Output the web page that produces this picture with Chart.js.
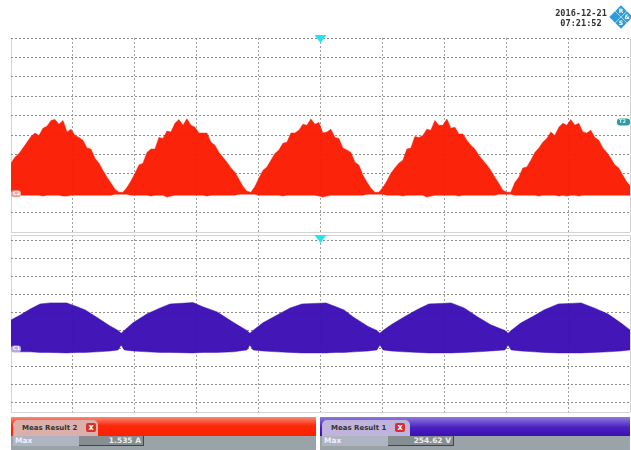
<!DOCTYPE html>
<html>
<head>
<meta charset="utf-8">
<title>Meas Result</title>
<script src="https://cdn.jsdelivr.net/npm/chart.js@4"></script>
<style>
    html, body { margin: 0; padding: 0; background: #fff; }
    #tela { position: relative; width: 631px; height: 450px; overflow: hidden; font-family: "DejaVu Sans", sans-serif; filter: blur(0.35px); }
    canvas { position: absolute; left: 0; }
    #grafico-corrente { top: 0; }
    #grafico-tensao { top: 233px; }
    .data { position: absolute; left: 546px; width: 70px; text-align: center; font: bold 8.6px/10px "DejaVu Sans Mono", monospace; color: #333; }
    .logo { position: absolute; width: 8px; height: 8px; background: #2f9bd9; transform: rotate(45deg); color: #fff; font: bold 6px/8px "DejaVu Sans", sans-serif; text-align: center; }
    .logo span { display: block; transform: rotate(-45deg); }
    .barra { position: absolute; top: 417px; height: 19px; }
    .vermelha { left: 11px; width: 305px; background: linear-gradient(#f9897a, #fb2a0a 45%, #fb2000); }
    .roxa { left: 320px; width: 310px; background: linear-gradient(#8f7bdc, #4a20c0 55%, #3a10b0); }
    .aba { position: absolute; top: 420px; height: 16px; border-radius: 5px 5px 0 0; font: bold 7px/16px "DejaVu Sans", sans-serif; color: #333; padding-left: 9px; box-sizing: border-box; }
    .fechar { position: absolute; top: 423px; width: 10px; height: 9px; border-radius: 2px; background: #d9302c; color: #fff; font: bold 8px/9px "DejaVu Sans", sans-serif; text-align: center; }
    .fundo { position: absolute; top: 436px; height: 14px; background: #9aa4a8; }
    .rotulo { position: absolute; top: 436px; height: 10px; background: #aeb4c2; color: #eef; font: bold 7.5px/10px "DejaVu Sans", sans-serif; padding-left: 2px; box-sizing: border-box; }
    .valor { position: absolute; top: 436px; height: 10px; background: #868e92; color: #eee; font: bold 7.5px/10px "DejaVu Sans", sans-serif; text-align: right; padding-right: 2px; box-sizing: border-box; border-right: 1px solid #444; border-bottom: 1px solid #444; }
</style>
</head>
<body>
<div id="tela">
    <canvas id="grafico-corrente" width="631" height="235"></canvas>
    <canvas id="grafico-tensao" width="631" height="182"></canvas>

    <div class="data" style="top: 8px">2016-12-21</div>
    <div class="data" style="top: 18px">07:21:52</div>
    <div class="logo" style="left: 617px; top: 7px"><span>R</span></div>
    <div class="logo" style="left: 611px; top: 13px"></div>
    <div class="logo" style="left: 623px; top: 13px"><span>&amp;</span></div>
    <div class="logo" style="left: 617px; top: 19px"><span>S</span></div>

    <div class="barra vermelha"></div>
    <div class="aba" style="left: 13px; width: 85px; background: #dcb0aa">Meas Result 2</div>
    <div class="fechar" style="left: 86px">x</div>
    <div class="fundo" style="left: 11px; width: 305px"></div>
    <div class="rotulo" style="left: 13px; width: 66px">Max</div>
    <div class="valor" style="left: 79px; width: 65px">1.535 A</div>

    <div class="barra roxa"></div>
    <div class="aba" style="left: 322px; width: 88px; background: #c0b4dc">Meas Result 1</div>
    <div class="fechar" style="left: 395px">x</div>
    <div class="fundo" style="left: 320px; width: 310px"></div>
    <div class="rotulo" style="left: 322px; width: 66px">Max</div>
    <div class="valor" style="left: 388px; width: 66px">254.62 V</div>
</div>

<script>
// Corrente (canal 2): envoltoria, uma amostra a cada 0,0646 div
const correnteSuperior = [
    0.62, 0.74, 0.82, 0.93, 1.05, 1.17, 1.24, 1.19, 1.34, 1.38, 1.50, 1.52, 1.42, 1.50, 1.26, 1.32,
    1.19, 1.15, 1.09, 0.93, 0.91, 0.72, 0.62, 0.47, 0.33, 0.21, 0.08, 0.02, 0.02, 0.12, 0.25, 0.41,
    0.58, 0.62, 0.84, 0.91, 0.91, 1.15, 1.13, 1.28, 1.26, 1.44, 1.52, 1.40, 1.535, 1.40, 1.36, 1.24,
    1.24, 1.24, 1.05, 0.99, 0.84, 0.74, 0.64, 0.52, 0.43, 0.29, 0.14, 0.04, 0.02, 0.14, 0.31, 0.47,
    0.54, 0.68, 0.82, 0.89, 1.03, 1.05, 1.24, 1.24, 1.30, 1.42, 1.40, 1.53, 1.42, 1.46, 1.24, 1.26,
    1.32, 1.15, 1.13, 0.93, 0.89, 0.84, 0.64, 0.58, 0.37, 0.23, 0.10, 0.02, 0.02, 0.12, 0.25, 0.41,
    0.52, 0.62, 0.68, 0.91, 0.93, 1.17, 1.15, 1.19, 1.32, 1.30, 1.50, 1.40, 1.40, 1.53, 1.34, 1.36,
    1.22, 1.22, 1.09, 0.99, 0.91, 0.78, 0.68, 0.58, 0.47, 0.33, 0.20, 0.06, 0.02, 0.02, 0.22, 0.33,
    0.52, 0.54, 0.68, 0.84, 0.93, 1.05, 1.13, 1.26, 1.19, 1.36, 1.44, 1.40, 1.52, 1.40, 1.44, 1.26,
    1.24, 1.30, 1.15, 1.09, 0.93, 0.84, 0.72, 0.58, 0.52, 0.37, 0.23, 0.14
];
const correnteInferior = [
    -0.04, -0.04, -0.04, -0.04, -0.04, -0.04, -0.04, -0.04, -0.06, -0.04, -0.04, -0.04, -0.04, -0.06, -0.06, -0.04,
    -0.04, -0.04, -0.04, -0.04, -0.04, -0.04, -0.04, -0.04, -0.04, -0.04, -0.02, -0.02, -0.02, -0.02, -0.04, -0.04,
    -0.04, -0.04, -0.04, -0.06, -0.04, -0.04, -0.04, -0.08, -0.06, -0.04, -0.04, -0.04, -0.04, -0.04, -0.04, -0.04,
    -0.04, -0.06, -0.04, -0.04, -0.04, -0.04, -0.04, -0.04, -0.04, -0.02, -0.02, -0.02, -0.02, -0.02, -0.04, -0.04,
    -0.04, -0.04, -0.04, -0.04, -0.06, -0.04, -0.04, -0.04, -0.04, -0.04, -0.04, -0.04, -0.04, -0.06, -0.08, -0.06,
    -0.04, -0.04, -0.04, -0.04, -0.04, -0.04, -0.04, -0.04, -0.04, -0.02, -0.02, -0.02, -0.02, -0.02, -0.04, -0.04,
    -0.04, -0.04, -0.06, -0.04, -0.04, -0.04, -0.04, -0.04, -0.08, -0.06, -0.04, -0.04, -0.04, -0.04, -0.04, -0.04,
    -0.06, -0.04, -0.04, -0.04, -0.04, -0.04, -0.04, -0.04, -0.04, -0.04, -0.02, -0.02, -0.02, -0.02, -0.04, -0.04,
    -0.04, -0.04, -0.04, -0.04, -0.06, -0.04, -0.04, -0.04, -0.04, -0.06, -0.04, -0.06, -0.04, -0.04, -0.06, -0.04,
    -0.04, -0.04, -0.04, -0.04, -0.04, -0.04, -0.04, -0.04, -0.04, -0.04, -0.04, -0.04
];
const passoCorrente = 0.0646;

// Tensao (canal 1)
const tempoTensao = [
    0, 0.15, 0.31, 0.47, 0.63, 0.90, 1.07, 1.20, 1.39, 1.60, 1.73, 1.78, 1.83, 1.97,
    2.20, 2.41, 2.57, 2.94, 3.10, 3.33, 3.59, 3.81, 3.86, 3.91, 4.07,
    4.30, 4.51, 4.70, 5.09, 5.25, 5.38, 5.54, 5.77, 5.91, 5.96, 6.01, 6.14,
    6.35, 6.58, 6.75, 7.11, 7.32, 7.54, 7.75, 7.98, 8.03, 8.08, 8.24,
    8.45, 8.61, 8.84, 9.21, 9.42, 9.64, 9.85, 10
];
const tensaoSuperior = [
    158, 186, 219, 247, 253, 253, 231, 214, 172, 125, 100, 84, 100, 142,
    192, 225, 247, 254.62, 231, 203, 145, 100, 84, 100, 142,
    186, 225, 247, 253, 231, 214, 172, 122, 100, 84, 100, 131,
    175, 219, 247, 253, 225, 175, 131, 100, 84, 100, 142,
    181, 214, 247, 253, 225, 192, 142, 103
];
const tensaoInferior = [
    -8, -19, -19, -22, -22, -25, -22, -22, -19, -14, -8, 19, -8, -14,
    -19, -22, -22, -25, -22, -22, -19, -8, 19, -8, -14,
    -19, -22, -25, -25, -22, -22, -19, -14, -8, 19, -8, -14,
    -19, -22, -25, -25, -22, -19, -14, -8, 19, -8, -14,
    -19, -22, -25, -25, -22, -19, -14, -8
];

// Marcas dos eixos
const divisoesTempo = [0, 1, 2, 3, 4, 5, 6, 7, 8, 9, 10];
const divisoesCorrente = [-0.8, -0.4, 0, 0.4, 0.8, 1.2, 1.6, 2.0, 2.4, 2.8, 3.2];
const divisoesTensao = [-353, -300, -200, -100, 0, 100, 200, 300, 400, 500, 600, 630];

const corGrade = '#8c8c8c';
const corGradeVertical = '#a2a2a2';
const corMoldura = '#d4d4d4';

function montarPontos(tempos, valores) {
    return valores.map((v, i) => ({ x: tempos[i], y: v }));
}

// Triangulo de disparo e etiquetas de canal presos as escalas
function marcadores(etiquetas) {
    return {
        id: 'marcadores',
        afterDraw(chart) {
            const ctx = chart.ctx;
            const { x, y } = chart.scales;
            const meio = x.getPixelForValue(5);
            const topo = chart.chartArea.top;

            ctx.save();
            ctx.fillStyle = '#27e3ee';
            ctx.beginPath();
            ctx.moveTo(meio - 6, topo + etiquetas.triangulo);
            ctx.lineTo(meio + 6, topo + etiquetas.triangulo);
            ctx.lineTo(meio, topo + etiquetas.triangulo + 8);
            ctx.closePath();
            ctx.fill();

            etiquetas.lista.forEach(e => {
                const py = y.getPixelForValue(e.valor);
                const px = e.direita ? chart.chartArea.right - 13 : chart.chartArea.left;
                ctx.fillStyle = e.fundo;
                ctx.beginPath();
                ctx.roundRect(px, py - 3, e.direita ? 13 : 10, 7, 3);
                ctx.fill();
                ctx.fillStyle = e.texto;
                ctx.font = 'bold 5px "DejaVu Sans"';
                ctx.textBaseline = 'middle';
                ctx.fillText(e.nome, px + 2, py + 0.5);
            });
            ctx.restore();
        }
    };
}

function criarOsciloscopio(id, superior, inferior, cor, marcasY, minY, maxY, molduraY, etiquetas) {
    return new Chart(document.getElementById(id), {
        type: 'line',
        data: {
            datasets: [
                { data: superior, borderColor: cor, backgroundColor: cor, borderWidth: 0.5, pointRadius: 0, fill: '+1', tension: 0 },
                { data: inferior, borderColor: cor, borderWidth: 0.5, pointRadius: 0, fill: false, tension: 0 }
            ]
        },
        options: {
            responsive: false,
            animation: false,
            layout: { padding: etiquetas.area },
            plugins: { legend: { display: false }, tooltip: { enabled: false } },
            scales: {
                x: {
                    type: 'linear',
                    min: 0,
                    max: 10,
                    afterBuildTicks: s => { s.ticks = divisoesTempo.map(v => ({ value: v })); },
                    ticks: { display: false },
                    border: {
                        display: false,
                        dash: c => (c.tick && (c.tick.value === 0 || c.tick.value === 10) ? [] : [2, 2])
                    },
                    grid: {
                        drawTicks: false,
                        color: c => (c.tick && (c.tick.value === 0 || c.tick.value === 10) ? corMoldura : corGradeVertical)
                    }
                },
                y: {
                    min: minY,
                    max: maxY,
                    afterBuildTicks: s => { s.ticks = marcasY.map(v => ({ value: v })); },
                    ticks: { display: false },
                    border: {
                        display: false,
                        dash: c => (c.tick && molduraY.includes(c.tick.value) ? [] : [2, 2])
                    },
                    grid: {
                        drawTicks: false,
                        color: c => (c.tick && molduraY.includes(c.tick.value) ? corMoldura : corGrade)
                    }
                }
            }
        },
        plugins: [marcadores(etiquetas)]
    });
}

criarOsciloscopio(
    'grafico-corrente',
    montarPontos(correnteSuperior.map((v, i) => i * passoCorrente), correnteSuperior),
    montarPontos(correnteInferior.map((v, i) => i * passoCorrente), correnteInferior),
    'rgba(251, 26, 0, 0.96)',
    divisoesCorrente, -0.8, 3.2, [-0.8],
    {
        area: { left: 11, right: 1, top: 38, bottom: 3 },
        triangulo: -3,
        lista: [
            { nome: 'C2', valor: 0, fundo: '#e9a9a0', texto: '#fff' },
            { nome: 'T2', valor: 1.48, direita: true, fundo: '#2f9ba0', texto: '#d8f4f4' }
        ]
    }
);

criarOsciloscopio(
    'grafico-tensao',
    montarPontos(tempoTensao, tensaoSuperior),
    montarPontos(tempoTensao, tensaoInferior),
    'rgba(58, 12, 180, 0.96)',
    divisoesTensao, -353, 630, [-353, 630],
    {
        area: { left: 11, right: 1, top: 2, bottom: 3 },
        triangulo: 0,
        lista: [
            { nome: 'C1', valor: 0, fundo: '#b6a6e6', texto: '#fff' }
        ]
    }
);
</script>
</body>
</html>
